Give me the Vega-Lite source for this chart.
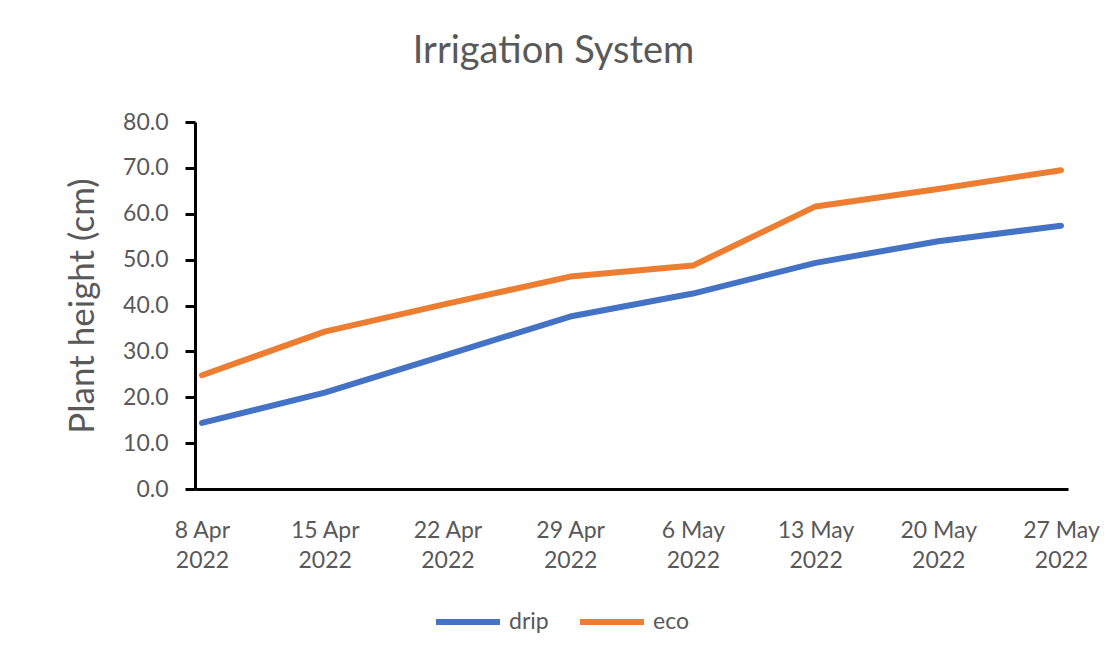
{
  "$schema": "https://vega.github.io/schema/vega-lite/v6.json",
  "width": 873,
  "height": 367,
  "autosize": "none",
  "padding": {"left": 195, "top": 122, "right": 43, "bottom": 170},
  "background": "white",
  "title": {
    "text": "Irrigation System",
    "font": "Lato",
    "fontSize": 38,
    "fontWeight": "normal",
    "color": "#595959",
    "anchor": "middle",
    "dx": -78,
    "offset": 40
  },
  "config": {
    "view": {"stroke": null},
    "axis": {"grid": false}
  },
  "data": {
    "values": [
      {"date": "2022-04-08", "series": "drip", "height": 14.4},
      {"date": "2022-04-15", "series": "drip", "height": 21.0},
      {"date": "2022-04-22", "series": "drip", "height": 29.3},
      {"date": "2022-04-29", "series": "drip", "height": 37.6},
      {"date": "2022-05-06", "series": "drip", "height": 42.6},
      {"date": "2022-05-13", "series": "drip", "height": 49.3},
      {"date": "2022-05-20", "series": "drip", "height": 54.0},
      {"date": "2022-05-27", "series": "drip", "height": 57.4},
      {"date": "2022-04-08", "series": "eco", "height": 24.8},
      {"date": "2022-04-15", "series": "eco", "height": 34.3},
      {"date": "2022-04-22", "series": "eco", "height": 40.4},
      {"date": "2022-04-29", "series": "eco", "height": 46.3},
      {"date": "2022-05-06", "series": "eco", "height": 48.7},
      {"date": "2022-05-13", "series": "eco", "height": 61.6},
      {"date": "2022-05-20", "series": "eco", "height": 65.4},
      {"date": "2022-05-27", "series": "eco", "height": 69.5}
    ]
  },
  "mark": {"type": "line", "strokeWidth": 6, "strokeCap": "round", "strokeJoin": "round"},
  "encoding": {
    "x": {
      "field": "date",
      "type": "ordinal",
      "scale": {"type": "point", "padding": 0.057},
      "axis": {
        "title": null,
        "labelExpr": "[utcFormat(toDate(datum.value), '%-d %b'), utcFormat(toDate(datum.value), '%Y')]",
        "labelAngle": 0,
        "ticks": false,
        "domainColor": "black",
        "domainWidth": 3,
        "labelFont": "Lato",
        "labelFontSize": 23,
        "labelColor": "#595959",
        "labelPadding": 48,
        "labelLineHeight": 30,
        "labelBaseline": "alphabetic"
      }
    },
    "y": {
      "field": "height",
      "type": "quantitative",
      "scale": {"domain": [0, 80], "nice": false, "zero": true},
      "axis": {
        "title": "Plant height (cm)",
        "values": [0, 10, 20, 30, 40, 50, 60, 70, 80],
        "format": ".1f",
        "domainColor": "black",
        "domainWidth": 3,
        "tickColor": "black",
        "tickWidth": 3,
        "tickSize": 10,
        "labelFont": "Lato",
        "labelFontSize": 23,
        "labelColor": "#595959",
        "labelPadding": 17,
        "titleFont": "Lato",
        "titleFontSize": 35,
        "titleFontWeight": "normal",
        "titleColor": "#595959",
        "titlePadding": 22
      }
    },
    "color": {
      "field": "series",
      "type": "nominal",
      "scale": {"domain": ["drip", "eco"], "range": ["#4472C4", "#ED7D31"]},
      "legend": {
        "title": null,
        "orient": "none",
        "direction": "horizontal",
        "legendX": 238,
        "legendY": 465,
        "symbolType": "stroke",
        "symbolSize": 4096,
        "symbolStrokeWidth": 6,
        "labelOffset": 6,
        "columnPadding": 19,
        "labelFont": "Lato",
        "labelFontSize": 23,
        "labelColor": "#595959"
      }
    }
  }
}
